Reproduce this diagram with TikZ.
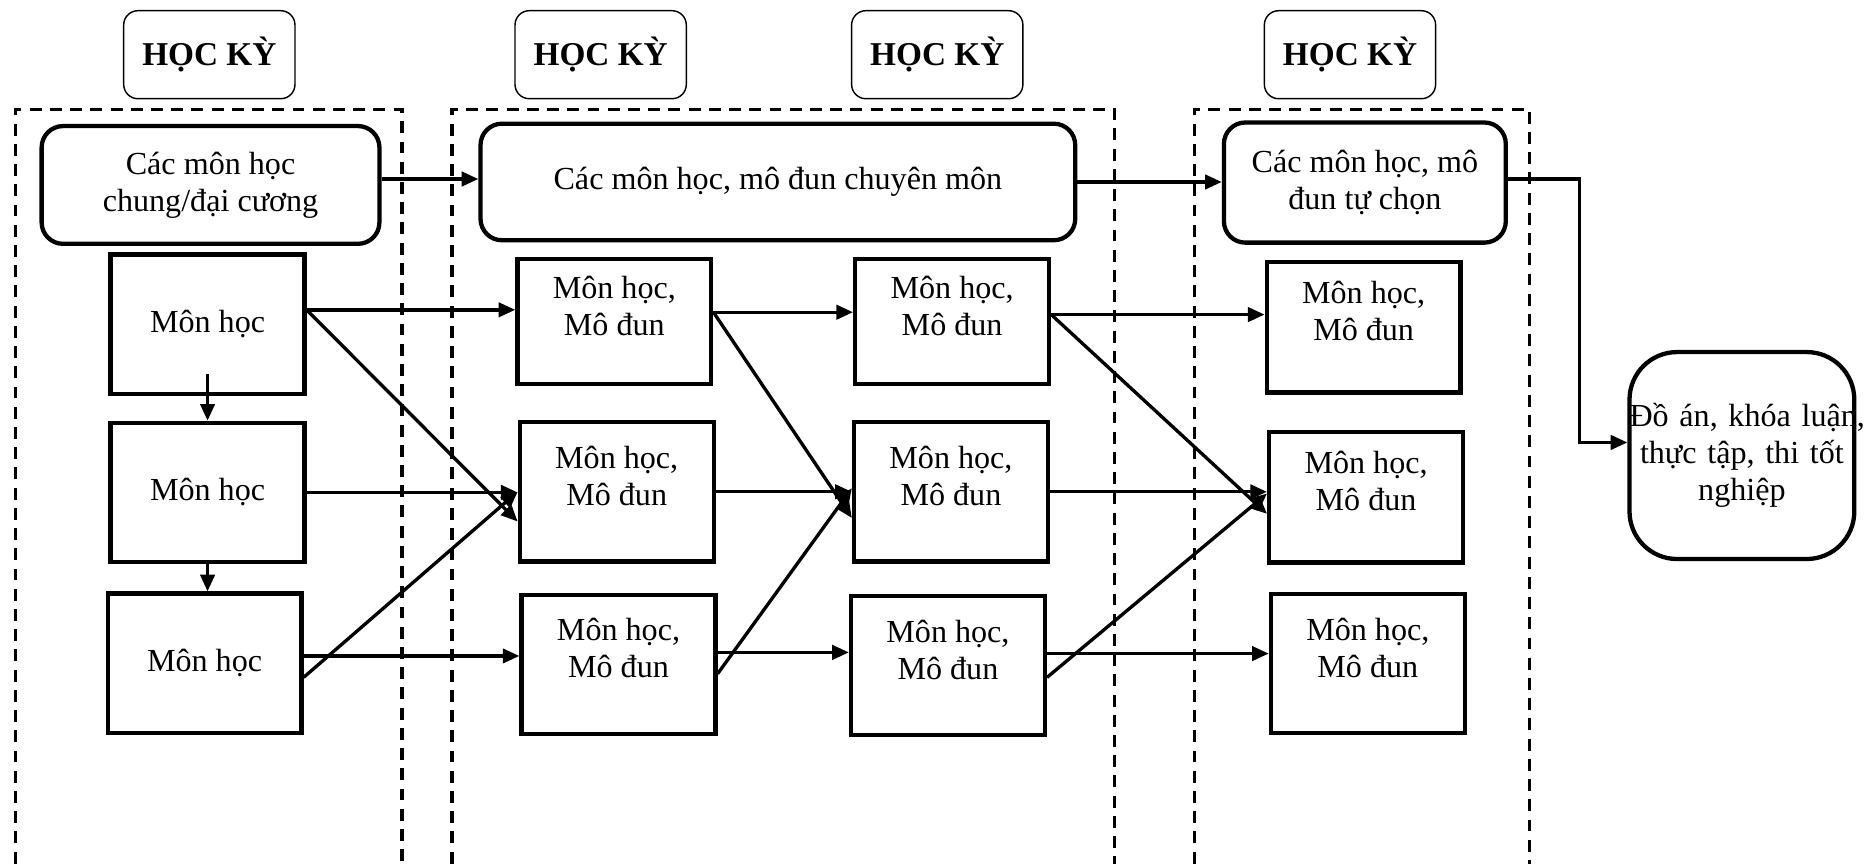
\documentclass[tikz,border=0pt]{standalone}
\usepackage{fontspec}
\setmainfont{Liberation Serif}
\usetikzlibrary{arrows.meta}

\newcommand{\mdun}{Môn học,\\Mô đun\\[-2pt]\mbox{}}

\tikzset{
    hocky/.style={draw, rounded corners=6pt, line width=0.6pt, minimum width=72pt, minimum height=37pt, inner sep=0pt, font=\fontsize{14}{15.5}\selectfont\bfseries},
    nhom/.style={draw, rounded corners=9pt, line width=1.8pt, inner sep=0pt, align=center, font=\fontsize{13.5}{15.5}\selectfont},
    monbox/.style={draw, line width=1.8pt, minimum width=81.5pt, minimum height=58.5pt, inner sep=0pt, align=center, font=\fontsize{13.5}{15.5}\selectfont},
    conn/.style={line width=1.4pt, -{Triangle[length=7pt,width=6pt]}},
    khung/.style={line width=1.4pt, dash pattern=on 5pt off 3.5pt},
}

\begin{document}
\begin{tikzpicture}[x=0.5pt,y=0.5pt,yscale=-1,xscale=1]
    \useasboundingbox (0,0) rectangle (1568,726);

    %Dashed Frame
    \draw [khung] (13,726) -- (13,92) -- (338,92) -- (338,726);
    %Dashed Frame
    \draw [khung] (380,726) -- (380,92) -- (937,92) -- (937,726);
    %Dashed Frame
    \draw [khung] (1004,726) -- (1004,92) -- (1286,92) -- (1286,726);

    % Text Node
    \node [hocky] (hk1) at (176,46) {HỌC KỲ};
    \node [hocky] (hk2) at (505,46) {HỌC KỲ};
    \node [hocky] (hk3) at (788,46) {HỌC KỲ};
    \node [hocky] (hk4) at (1135,46) {HỌC KỲ};

    % Text Node
    \node [nhom, minimum width=142pt, minimum height=49.5pt] (chung) at (177,155.5) {Các môn học\\chung/đại cương};
    % Text Node
    \node [nhom, minimum width=250pt, minimum height=49pt] (chuyen) at (654,153) {Các môn học, mô đun chuyên môn};
    % Text Node
    \node [nhom, minimum width=118.5pt, minimum height=50.5pt] (tuchon) at (1147.5,153.5) {Các môn học, mô\\đun tự chọn};
    % Text Node
    \node [nhom, rounded corners=20pt, text width=94.5pt, minimum height=87pt] (totnghiep) at (1464.5,383) {\mbox{Đồ án, khóa luận,}\\thực tập, thi tốt\\nghiệp};

    % Text Node
    \node [monbox] (mh1) at (174.5,272.5) {Môn học};
    \node [monbox] (mh2) at (174.5,414) {Môn học};
    \node [monbox] (mh3) at (172,557.5) {Môn học};
    % Text Node
    \node [monbox, minimum height=52.5pt] (md11) at (516.5,270.5) {\mdun};
    \node [monbox] (md12) at (518.5,413.5) {\mdun};
    \node [monbox] (md13) at (520,558.5) {\mdun};
    % Text Node
    \node [monbox, minimum height=52.5pt] (md21) at (800.5,270.5) {\mdun};
    \node [monbox] (md22) at (799.5,413.5) {\mdun};
    \node [monbox] (md23) at (797,559.5) {\mdun};
    % Text Node
    \node [monbox, minimum height=55pt] (md31) at (1146.5,275) {\mdun};
    \node [monbox, minimum height=55pt] (md32) at (1148.5,418) {\mdun};
    \node [monbox] (md33) at (1150,558) {\mdun};

    % Connection
    \draw [conn] ([yshift=-2.5pt]chung.east) -- ([yshift=-2.5pt]chung.east -| chuyen.west);
    \draw [conn] (chuyen.east) -- (chuyen.east -| tuchon.west);
    \draw [conn] ([yshift=-1.5pt]tuchon.east) -- ++(60,0) |- ([yshift=-5.5pt]totnghiep.west);

    % Connection
    \draw [conn] ([yshift=-9pt]mh1.south) -- (mh2.north);
    \draw [conn] (mh2.south) -- (mh2.south |- mh3.north);

    % Connection
    \draw [conn] ([yshift=-6pt]mh1.east) -- ([yshift=-6pt]mh1.east -| md11.west);
    \draw [conn] ([yshift=-6pt]mh1.east) -- ([yshift=12.5pt]md12.west);
    \draw [conn] (mh2.east) -- (mh2.east -| md12.west);
    \draw [conn] ([yshift=6pt]mh3.east) -- (md12.west);
    \draw [conn] ([yshift=-3pt]mh3.east) -- ([yshift=-3pt]mh3.east -| md13.west);

    % Connection
    \draw [conn] ([yshift=-4pt]md11.east) -- ([yshift=-4pt]md11.east -| md21.west);
    \draw [conn] ([yshift=-4pt]md11.east) -- ([yshift=11pt]md22.west);
    \draw [conn] (md12.east) -- (md12.east -| md22.west);
    \draw [conn] ([yshift=4pt]md13.east) -- ([yshift=-1.5pt]md22.west);
    \draw [conn] ([yshift=-5pt]md13.east) -- ([yshift=-5pt]md13.east -| md23.west);

    % Connection
    \draw [conn] ([yshift=-3pt]md21.east) -- ([yshift=-3pt]md21.east -| md31.west);
    \draw [conn] ([yshift=-3pt]md21.east) -- ([yshift=7pt]md32.west);
    \draw [conn] (md22.east) -- (md22.east -| md32.west);
    \draw [conn] ([yshift=5pt]md23.east) -- ([yshift=-1.5pt]md32.west);
    \draw [conn] ([yshift=-5pt]md23.east) -- ([yshift=-5pt]md23.east -| md33.west);

\end{tikzpicture}
\end{document}
